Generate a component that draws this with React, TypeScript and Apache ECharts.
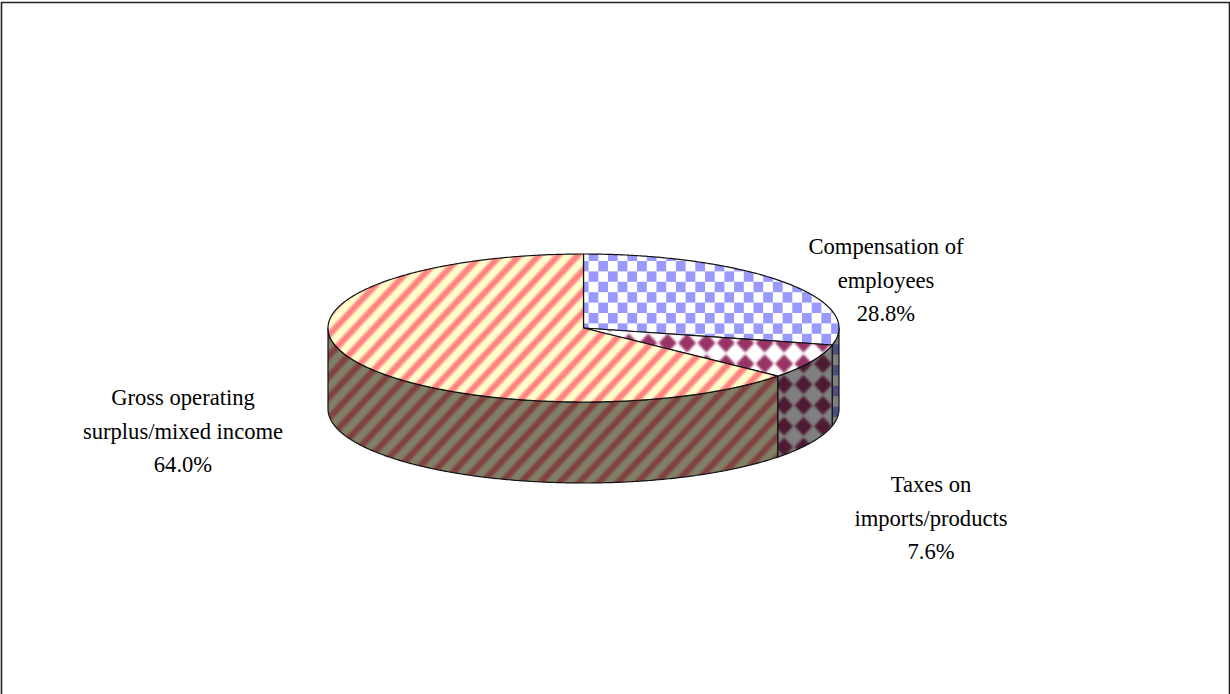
import React, { useEffect, useRef } from "react";
import * as echarts from "echarts";

// National income shares, drawn as an extruded pie.
const categories = ["Compensation of\nemployees", "Taxes on\nimports/products", "Gross operating\nsurplus/mixed income"];
const shares = [28.8, 7.6, 64.0];

const WIDTH = 1230;
const HEIGHT = 694;
const CX = 583.5;
const CY = 328;
const RX = 255.5;
const RY = 74;
const DEPTH = 81;
// hatch cells are slightly taller than wide
const PX = 19.4;
const PY = 20.8;
const TILE_W = 97; // five periods each way, so the fractional period still tiles cleanly
const TILE_H = 104;

const labelAnchors = [
  { x: 886, y: 280 },
  { x: 931, y: 518 },
  { x: 183, y: 431 },
];

type Painter = (ctx: CanvasRenderingContext2D) => void;

function tile(light: string, dark: string, blur: number, paint: Painter) {
  const canvas = document.createElement("canvas");
  canvas.width = TILE_W;
  canvas.height = TILE_H;
  const ctx = canvas.getContext("2d")!;
  ctx.filter = `blur(${blur}px)`;
  ctx.fillStyle = light;
  ctx.fillRect(-6, -6, TILE_W + 12, TILE_H + 12);
  ctx.fillStyle = dark;
  paint(ctx);
  return { image: canvas, repeat: "repeat", imageWidth: TILE_W, imageHeight: TILE_H };
}

function checker(light: string, dark: string, ox: number, oy: number) {
  return tile(light, dark, 0.6, (ctx) => {
    const cw = PX / 2;
    const ch = PY / 2;
    for (let i = -4; i <= 14; i++) {
      for (let j = -4; j <= 14; j++) {
        if ((i + j + 100) % 2 === 0) ctx.fillRect(ox + i * cw, oy + j * ch, cw, ch);
      }
    }
  });
}

function diamonds(light: string, dark: string, ox: number, oy: number) {
  return tile(light, dark, 1.2, (ctx) => {
    const rx = PX * 0.46;
    const ry = PY * 0.46;
    for (let i = -2; i <= 7; i++) {
      for (let j = -2; j <= 7; j++) {
        const x = ox + i * PX;
        const y = oy + j * PY;
        ctx.beginPath();
        ctx.moveTo(x - rx, y);
        ctx.lineTo(x, y - ry);
        ctx.lineTo(x + rx, y);
        ctx.lineTo(x, y + ry);
        ctx.closePath();
        ctx.fill();
      }
    }
  });
}

function stripes(light: string, dark: string, phase: number) {
  return tile(light, dark, 1, (ctx) => {
    const half = PX * 0.22;
    const top = -8;
    const bottom = TILE_H + 8;
    for (let k = -8; k <= 20; k++) {
      // each band follows a line of constant x / PX + y / PY
      const xAt = (y: number) => PX * (k + phase - y / PY);
      ctx.beginPath();
      ctx.moveTo(xAt(top) - half, top);
      ctx.lineTo(xAt(top) + half, top);
      ctx.lineTo(xAt(bottom) + half, bottom);
      ctx.lineTo(xAt(bottom) - half, bottom);
      ctx.closePath();
      ctx.fill();
    }
  });
}

const point = (deg: number, dy = 0): [number, number] => {
  const a = (deg * Math.PI) / 180;
  return [CX + RX * Math.sin(a), CY - RY * Math.cos(a) + dy];
};

function arc(from: number, to: number, dy = 0) {
  const pts: [number, number][] = [];
  const steps = Math.max(2, Math.ceil((to - from) * 2));
  for (let i = 0; i <= steps; i++) pts.push(point(from + ((to - from) * i) / steps, dy));
  return pts;
}

export default function App() {
  const ref = useRef<HTMLDivElement>(null);

  useEffect(() => {
    const chart = echarts.init(ref.current!, null, { renderer: "svg" });
    const total = shares.reduce((a, b) => a + b, 0);
    const bounds: [number, number][] = [];
    let acc = 0;
    for (const s of shares) {
      const start = (acc / total) * 360;
      acc += s;
      bounds.push([start, (acc / total) * 360]);
    }

    const checkX = 598.3 % PX;
    const checkY = 261 % PY;
    const diamondX = 648.3 % PX;
    const diamondY = 343 % PY;
    const stripePhase = 0.057;
    const topFills = [
      checker("#FFFFFF", "#9999FF", checkX, checkY),
      diamonds("#FFFFFF", "#993366", diamondX, diamondY),
      stripes("#FFFFCC", "#FF8080", stripePhase),
    ];
    const sideFills = [
      checker("#808080", "#4D4D80", checkX, checkY),
      diamonds("#808080", "#4D1A33", diamondX, diamondY),
      stripes("#808066", "#804040", stripePhase),
    ];

    const outline = { stroke: "#111111", lineWidth: 1.2, lineJoin: "round" };

    chart.setOption({
      animation: false,
      backgroundColor: "#FFFFFF",
      graphic: [
        {
          type: "rect",
          silent: true,
          shape: { x: 1.5, y: 2.5, width: 1228, height: 720 },
          style: { fill: "none", stroke: "#222222", lineWidth: 1.6 },
        },
      ],
      series: [
        {
          // outer wall, only the front half of the rim is visible
          type: "custom",
          coordinateSystem: "none",
          silent: true,
          z: 2,
          data: shares,
          renderItem: (params: any) => {
            const [s, e] = bounds[params.dataIndex];
            const from = Math.max(s, 90);
            const to = Math.min(e, 270);
            if (to <= from) return { type: "group", children: [] };
            const points = [...arc(from, to), ...arc(from, to, DEPTH).reverse()];
            return {
              type: "polygon",
              shape: { points },
              style: { fill: sideFills[params.dataIndex], ...outline },
            };
          },
        },
        {
          // top face of each slice with its label
          type: "custom",
          coordinateSystem: "none",
          silent: true,
          z: 3,
          data: shares,
          renderItem: (params: any) => {
            const i = params.dataIndex;
            const [s, e] = bounds[i];
            const points = [[CX, CY], ...arc(s, e)];
            return {
              type: "group",
              children: [
                {
                  type: "polygon",
                  shape: { points },
                  style: { fill: topFills[i], ...outline },
                },
                {
                  type: "text",
                  style: {
                    x: labelAnchors[i].x,
                    y: labelAnchors[i].y,
                    text: `${categories[i]}\n${shares[i].toFixed(1)}%`,
                    fill: "#000000",
                    align: "center",
                    verticalAlign: "middle",
                    font: '22.6px "Liberation Serif"',
                    lineHeight: 33.5,
                  },
                },
              ],
            };
          },
        },
      ],
    });
    return () => chart.dispose();
  }, []);

  return (
    <div
      ref={ref}
      style={{ position: "fixed", left: 0, top: 0, width: WIDTH, height: HEIGHT, background: "#fff" }}
    />
  );
}
